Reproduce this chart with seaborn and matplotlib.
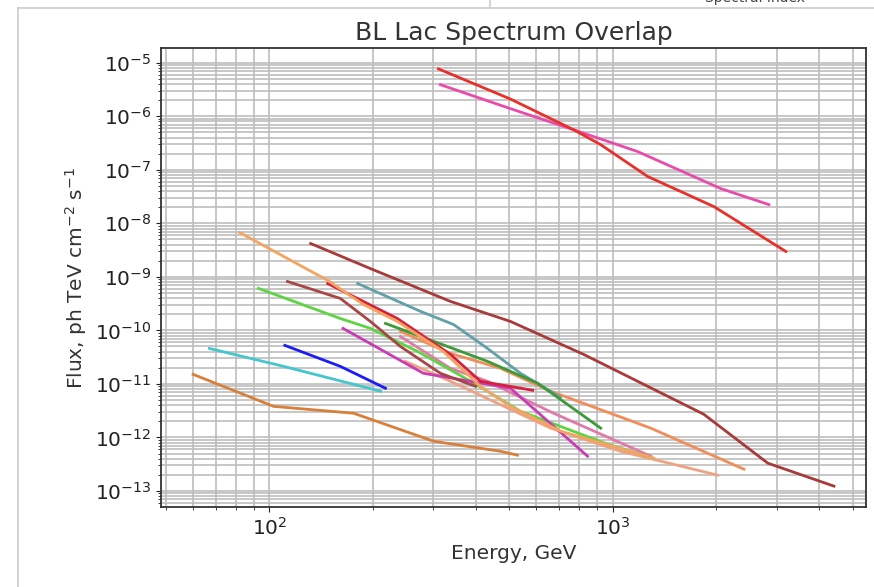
import matplotlib
matplotlib.use("Agg")
import matplotlib.pyplot as plt
import numpy as np
import pandas as pd
import seaborn as sns
from matplotlib.lines import Line2D
from matplotlib.ticker import LogLocator

# energies (GeV) and fluxes, one pair per spectrum
red_e = [311, 504, 770, 923, 1265, 1970, 3194]
red_f = [7.7e-6, 2.1e-6, 5.6e-7, 2.95e-7, 7.5e-8, 2.06e-8, 2.98e-9]
pink_e = [315, 504, 770, 1183, 2065, 2850]
pink_f = [3.9e-6, 1.39e-6, 5.6e-7, 2.19e-7, 4.46e-8, 2.24e-8]
sandy_e = [82, 148, 188, 236, 321, 412, 504, 705, 1317]
sandy_f = [6.74e-9, 8.6e-10, 3.05e-10, 1.47e-10, 4.06e-11, 9.0e-12, 3.8e-12, 1.31e-12, 4.1e-13]
brown_e = [132, 197, 337, 504, 823, 1842, 2830, 4409]
brown_f = [4.2e-9, 1.43e-9, 3.48e-10, 1.47e-10, 3.56e-11, 2.71e-12, 3.3e-13, 1.23e-13]
brown2_e = [113, 161, 197, 241, 315, 399]
brown2_f = [8.2e-10, 3.96e-10, 1.47e-10, 5.0e-11, 1.58e-11, 9.0e-12]
green_e = [93, 161, 197, 270, 386, 539, 967, 1291]
green_f = [6.1e-10, 1.67e-10, 1.09e-10, 4.06e-11, 1.12e-11, 3.08e-12, 7.46e-13, 4.27e-13]
dgreen_e = [218, 276, 432, 605, 923]
dgreen_f = [1.35e-10, 7.7e-11, 2.64e-11, 1.03e-11, 1.49e-12]
teal_e = [181, 276, 344, 432, 539, 705]
teal_f = [7.5e-10, 2.26e-10, 1.29e-10, 4.6e-11, 1.58e-11, 5.6e-12]
crimson_e = [148, 236, 337, 412, 585]
crimson_f = [7.5e-10, 1.67e-10, 3.56e-11, 1.12e-11, 7.6e-12]
magenta_e = [164, 281, 344, 504, 845]
magenta_f = [1.09e-10, 1.58e-11, 1.27e-11, 8.3e-12, 4.46e-13]
orchid_e = [241, 337, 432, 673, 1291]
orchid_f = [7.7e-11, 1.95e-11, 1.12e-11, 2.83e-12, 4.46e-13]
salmon_e = [241, 337, 472, 660, 1291, 2410]
salmon_f = [9.6e-11, 3.72e-11, 1.95e-11, 7.3e-12, 1.49e-12, 2.55e-13]
lsalmon_e = [249, 337, 660, 1055, 2024]
lsalmon_f = [2.64e-11, 1.12e-11, 1.49e-12, 5.5e-13, 1.97e-13]
blue_e = [111, 161, 218]
blue_f = [5.25e-11, 2.13e-11, 8.3e-12]
cyan_e = [67, 110, 211]
cyan_f = [4.6e-11, 2.13e-11, 7.3e-12]
obrown_e = [60, 103, 176, 301, 472, 528]
obrown_f = [1.51e-11, 3.8e-12, 2.83e-12, 8.5e-13, 5.5e-13, 4.66e-13]

series = {
    "obrown": (obrown_e, obrown_f, "#d8803a"),
    "cyan": (cyan_e, cyan_f, "#45c6cc"),
    "blue": (blue_e, blue_f, "#1c1cf4"),
    "lsalmon": (lsalmon_e, lsalmon_f, "#eda383"),
    "salmon": (salmon_e, salmon_f, "#f28c58"),
    "orchid": (orchid_e, orchid_f, "#e07aa8"),
    "teal": (teal_e, teal_f, "#62a0a8"),
    "dgreen": (dgreen_e, dgreen_f, "#3d9a3a"),
    "green": (green_e, green_f, "#5ed444"),
    "magenta": (magenta_e, magenta_f, "#c83cb4"),
    "brown2": (brown2_e, brown2_f, "#a84545"),
    "crimson": (crimson_e, crimson_f, "#d8203c"),
    "sandy": (sandy_e, sandy_f, "#f4a460"),
    "brown": (brown_e, brown_f, "#a83a3a"),
    "pink": (pink_e, pink_f, "#e94bab"),
    "red": (red_e, red_f, "#e8302a"),
}

frames = []
for name, (e, f, _) in series.items():
    frames.append(pd.DataFrame({"energy": e, "flux": f, "source": name}))
df = pd.concat(frames, ignore_index=True)
palette = {name: c for name, (_, _, c) in series.items()}

fig = plt.figure(figsize=(8.74, 5.87), dpi=100)
ax = fig.add_axes([161 / 874, 1 - 507 / 587, 705 / 874, 459 / 587])

sns.lineplot(data=df, x="energy", y="flux", hue="source", palette=palette,
             estimator=None, sort=False, linewidth=2, legend=False, ax=ax)

ax.set_xscale("log")
ax.set_yscale("log")
ax.yaxis.set_major_locator(LogLocator(base=10, numticks=30))
ax.yaxis.set_minor_locator(LogLocator(base=10, subs=np.arange(2, 10), numticks=100))
ax.xaxis.set_minor_locator(LogLocator(base=10, subs=np.arange(2, 10), numticks=100))
ax.margins(0.05)

ax.grid(True, which="both", color="#bdbdbd", linewidth=1.2)
ax.set_axisbelow(True)
for sp in ax.spines.values():
    sp.set_color("#333333")
    sp.set_linewidth(1.3)
ax.tick_params(which="both", direction="out", labelsize=14.5, colors="#222222")

ax.set_title("BL Lac Spectrum Overlap", fontsize=18, color="#333333")
ax.set_xlabel("Energy, GeV", fontsize=14.5, color="#333333")
ax.set_ylabel(r"Flux, ph TeV cm$^{-2}$ s$^{-1}$", fontsize=14.5, color="#333333")

# leftovers of the surrounding screenshot frame
fig.add_artist(Line2D([18 / 874, 18 / 874], [0, 1 - 8 / 587], transform=fig.transFigure,
                      color="#cccccc", linewidth=1.2))
fig.add_artist(Line2D([18 / 874, 1], [1 - 8 / 587, 1 - 8 / 587], transform=fig.transFigure,
                      color="#cccccc", linewidth=1.2))
fig.add_artist(Line2D([490 / 874, 490 / 874], [1 - 8 / 587, 1], transform=fig.transFigure,
                      color="#cccccc", linewidth=1.2))
fig.text(755 / 874, 1 - 5 / 587, "Spectral Index", fontsize=10, color="#444444",
         ha="center", va="bottom")

fig.savefig("out.png", dpi=100)
